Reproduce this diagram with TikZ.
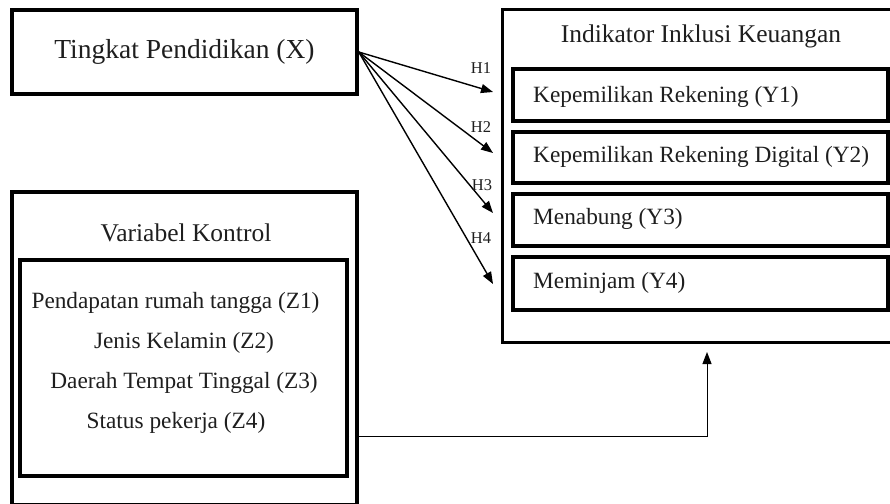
\documentclass[tikz,border=0pt]{standalone}
\usepackage{fontspec}
\setmainfont{Liberation Serif}
\usetikzlibrary{arrows.meta}
\definecolor{txt}{HTML}{1E1E1E}
\begin{document}
\begin{tikzpicture}[x=1pt,y=-1pt,
  box/.style={draw, line width=3.5pt, rectangle, inner sep=0pt},
  obox/.style={draw, line width=3pt, rectangle, inner sep=0pt},
  ytxt/.style={anchor=west, inner sep=0pt, text=txt, font=\fontsize{23.3}{28}\selectfont},
  ztxt/.style={inner sep=0pt, text=txt, font=\fontsize{23.3}{28}\selectfont},
  ttl/.style={inner sep=0pt, text=txt, font=\fontsize{25.5}{28}\selectfont},
  lbl/.style={inner sep=0pt, text=txt, font=\fontsize{16.5}{18}\selectfont},
  arr/.style={line width=1.4pt, -{Triangle[length=12pt,width=9pt]}}]
\path[use as bounding box] (0,0) rectangle (890,503);
\clip (0,0) rectangle (890,503);

% Tingkat Pendidikan
\node[box, minimum width=345pt, minimum height=84pt, text=txt, font=\fontsize{27.5}{30}\selectfont] (X) at (184.5,52) {Tingkat Pendidikan (X)};

% Indikator Inklusi Keuangan
\node[obox, minimum width=393pt, minimum height=332pt] (ind) at (698.5,176) {};
\node[ttl] (indt) at (701,36) {Indikator Inklusi Keuangan};
\node[box, minimum width=375pt, minimum height=52pt] (y1) at (700.5,95) {};
\node[box, minimum width=375pt, minimum height=51pt] (y2) at (700.5,157.5) {};
\node[box, minimum width=375pt, minimum height=52pt] (y3) at (700.5,220) {};
\node[box, minimum width=375pt, minimum height=53pt] (y4) at (700.5,283.5) {};
\node[ytxt] (t1) at (533,97) {Kepemilikan Rekening (Y1)};
\node[ytxt] (t2) at (533,157) {Kepemilikan Rekening Digital (Y2)};
\node[ytxt] (t3) at (533,219) {Menabung (Y3)};
\node[ytxt] (t4) at (533,283) {Meminjam (Y4)};

% Variabel Kontrol
\node[obox, line width=3.5pt, minimum width=345pt, minimum height=313pt] (vk) at (184.5,348.5) {};
\node[ttl] (vkt) at (186,233) {Variabel Kontrol};
\node[box, minimum width=327pt, minimum height=216pt] (vki) at (183.5,368) {};
\node[ztxt] (z1) at (175.5,303) {Pendapatan rumah tangga (Z1)};
\node[ztxt] (z2) at (184,343) {Jenis Kelamin (Z2)};
\node[ztxt] (z3) at (184,383) {Daerah Tempat Tinggal (Z3)};
\node[ztxt] (z4) at (176,423) {Status pekerja (Z4)};

% hypothesis arrows
\coordinate (h1) at (493,92);
\coordinate (h2) at (493,153);
\coordinate (h3) at (493,213);
\coordinate (h4) at (493,284);
\draw[arr] (X.east) -- (h1);
\draw[arr] (X.east) -- (h2);
\draw[arr] (X.east) -- (h3);
\draw[arr] (X.east) -- (h4);
\node[lbl] (l1) at (481,68) {H1};
\node[lbl] (l2) at (481,127) {H2};
\node[lbl] (l3) at (482,185) {H3};
\node[lbl] (l4) at (481,238) {H4};

% control connector
\coordinate (corner) at (707,436);
\coordinate (tip) at (707,352);
\draw[line width=1pt, -{Triangle[length=12pt,width=9pt]}] (vk.east |- corner) -- (corner) -- (tip);
\end{tikzpicture}
\end{document}
